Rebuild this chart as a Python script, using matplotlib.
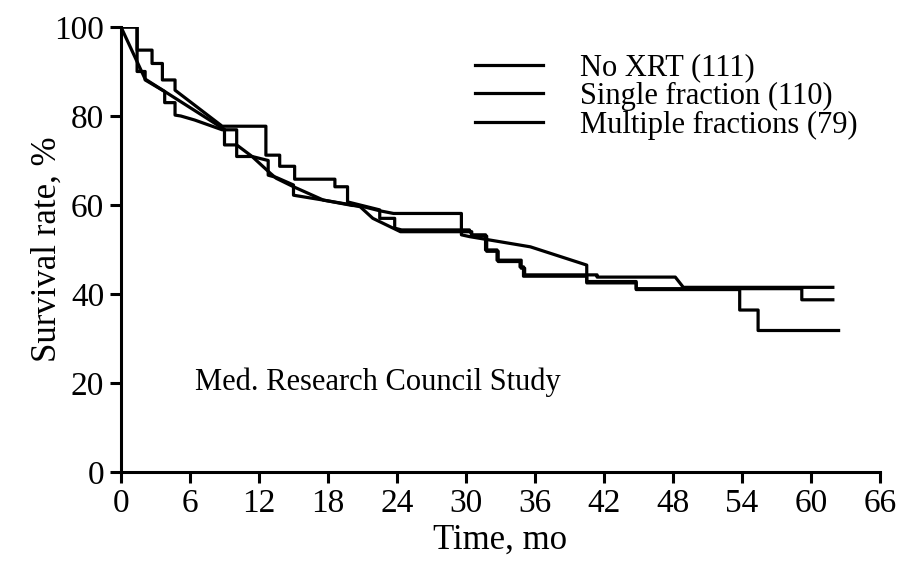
import matplotlib
matplotlib.use("Agg")
import matplotlib.pyplot as plt

# survival curves (months, %)
no_xrt_t = [0, 1.4, 1.4, 2.7, 2.7, 3.6, 3.6, 4.7, 4.7, 8.8, 12.6, 12.6, 13.8, 13.8, 15.1, 15.1,
            18.6, 18.6, 19.7, 19.7, 22.5, 22.5, 23.8, 23.8, 24.4, 30.3, 30.5, 31.7, 31.7, 32.7,
            32.7, 34.8, 34.8, 35.1, 35.1, 41.4, 41.4, 48.2, 48.9, 61.9]
no_xrt_s = [100, 100, 94.8, 94.8, 91.8, 91.8, 88.1, 88.1, 85.8, 77.7, 77.7, 71.2, 71.2, 68.7, 68.7, 65.8,
            65.8, 64.1, 64.1, 60.7, 58.9, 57.0, 57.0, 54.8, 54.4, 54.4, 53.3, 53.3, 49.9, 49.9,
            47.6, 47.6, 45.8, 45.8, 44.3, 44.3, 43.8, 43.8, 41.5, 41.5]

single_t = [0, 1.4, 1.4, 2.1, 2.1, 3.8, 3.8, 4.7, 4.7, 5.2, 6.4, 8.8, 10.06, 10.06, 11.4, 12.8,
            12.8, 13.5, 15.0, 15.0, 17.6, 20.1, 20.8, 21.9, 24.3, 30.5, 30.5, 31.8, 31.8, 32.8,
            32.8, 34.7, 34.7, 35.0, 35.0, 40.5, 40.5, 44.8, 44.8, 53.8, 53.8, 55.4, 55.4, 62.4]
single_s = [100, 100, 90, 90, 88.1, 85.5, 83, 83, 80.2, 80.0, 79.1, 76.9, 76.9, 73.5, 70.9, 70.0,
            66.7, 66.2, 64.5, 62.2, 61.1, 60.0, 59.6, 57.0, 54.0, 54.0, 53.0, 53.0, 49.6, 49.6,
            47.3, 47.3, 46.1, 46.1, 44.0, 44.0, 42.8, 42.8, 41.0, 41.0, 36.4, 36.4, 31.8, 31.8]

multi_t = [0, 2.1, 8.8, 9.0, 9.0, 10.06, 10.06, 11.4, 13.0, 13.5, 15.0, 17.6, 20.1, 20.8, 22.5,
           23.7, 29.6, 29.6, 30.3, 35.6, 40.5, 40.5, 44.8, 44.8, 59.2, 59.2, 61.9]
multi_s = [100, 88.3, 77.3, 77.0, 73.5, 73.5, 70.9, 70.9, 67.1, 66.0, 64.1, 61.1, 59.9, 59.8, 58.7,
           58.1, 58.1, 53.3, 52.9, 50.6, 46.5, 42.5, 42.5, 41.2, 41.2, 38.7, 38.7]

labels = ["No XRT (111)", "Single fraction (110)", "Multiple fractions (79)"]
xticks = list(range(0, 67, 6))
yticks = [0, 20, 40, 60, 80, 100]

plt.rcParams['font.family'] = ['Liberation Serif', 'DejaVu Serif']

fig = plt.figure(figsize=(9.18, 5.61), dpi=100)
ax = fig.add_axes([0.1318, 0.1586, 0.8268, 0.7933])

lw = 2.3
ax.plot(no_xrt_t, no_xrt_s, color='black', lw=lw, label=labels[0])
ax.plot(single_t, single_s, color='black', lw=lw, label=labels[1])
ax.plot(multi_t, multi_s, color='black', lw=lw, label=labels[2])

ax.set_xlim(0, 66)
ax.set_ylim(0, 100)
ax.set_xticks(xticks)
ax.set_yticks(yticks)
ax.tick_params(direction='out', length=8, width=2.2, labelsize=24, pad=4)
ax.spines['top'].set_visible(False)
ax.spines['right'].set_visible(False)
ax.spines['left'].set_linewidth(2.2)
ax.spines['bottom'].set_linewidth(2.2)

ax.set_xlabel("Time, mo", fontsize=25, labelpad=3)
ax.set_ylabel("Survival rate, %", fontsize=25)
ax.yaxis.set_label_coords(-0.076, 0.5)

ax.text(6.4, 20.2, "Med. Research Council Study", fontsize=22, va='center', ha='left')

leg = ax.legend(loc='upper left', bbox_to_anchor=(0.466, 0.94), frameon=False, fontsize=22,
                handlelength=2.25, handletextpad=1.2, labelspacing=-0.02, borderpad=0.0,
                borderaxespad=0.0)

fig.savefig("out.png", dpi=100)
